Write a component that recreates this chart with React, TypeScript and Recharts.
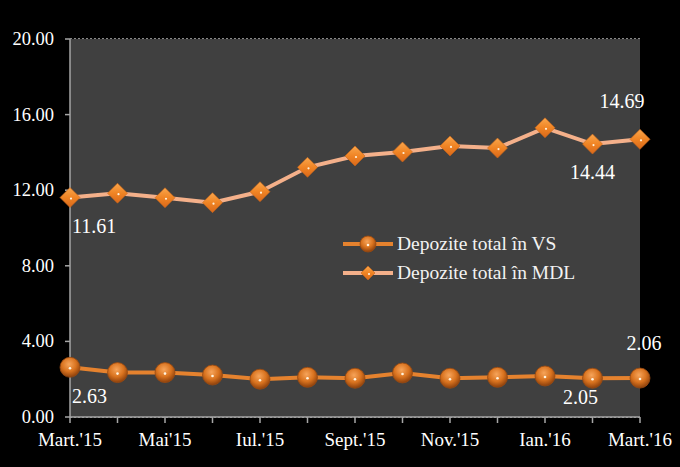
import React from 'react';
import { LineChart, Line, XAxis, YAxis, CartesianGrid, LabelList } from 'recharts';

const months = [
  "Mart.'15", "Apr.'15", "Mai'15", "Iun.'15", "Iul.'15", "Aug.'15", "Sept.'15",
  "Oct.'15", "Nov.'15", "Dec.'15", "Ian.'16", "Feb.'16", "Mart.'16",
];
const vsValues = [2.63, 2.35, 2.35, 2.22, 2.0, 2.1, 2.05, 2.33, 2.05, 2.1, 2.17, 2.05, 2.06];
const mdlValues = [11.61, 11.84, 11.6, 11.34, 11.92, 13.21, 13.81, 14.02, 14.34, 14.23, 15.3, 14.44, 14.69];
const vsLabels = ['2.63', '', '', '', '', '', '', '', '', '', '', '2.05', '2.06'];
const mdlLabels = ['11.61', '', '', '', '', '', '', '', '', '', '', '14.44', '14.69'];
const yTicks = [0, 4, 8, 12, 16, 20];

const data = months.map((m, i) => ({
  month: m,
  vs: vsValues[i],
  mdl: mdlValues[i],
  vsLabel: vsLabels[i],
  mdlLabel: mdlLabels[i],
}));

const FONT = '"Liberation Serif", "Times New Roman", serif';

const Sphere = (props: any) => {
  const { cx, cy, rad = 10 } = props;
  if (cx == null || cy == null) return null;
  return (
    <g>
      <circle cx={cx} cy={cy} r={rad} fill="url(#sphereGrad)" stroke="#9a4a10" strokeWidth={0.8} />
      <circle cx={cx} cy={cy + 1} r={1.3} fill="#fff4e0" />
    </g>
  );
};

const Diamond = (props: any) => {
  const { cx, cy, half = 10 } = props;
  if (cx == null || cy == null) return null;
  const s = half;
  return (
    <g>
      <path
        d={`M${cx},${cy - s} L${cx + s},${cy} L${cx},${cy + s} L${cx - s},${cy} Z`}
        fill="url(#diamondGrad)"
        stroke="#c8651a"
        strokeWidth={0.6}
      />
      <circle cx={cx + 1} cy={cy + 1} r={1.1} fill="#fff2dc" />
    </g>
  );
};

const makeLabel = (offs: number[]) => (props: any) => {
  const { x, y, value, index } = props;
  if (!value) return null;
  let dx = 0;
  let dy = 28;
  let anchor: 'start' | 'middle' | 'end' = 'middle';
  if (index === 0) {
    dx = 2;
    dy = offs[4];
    anchor = 'start';
  } else if (index === 12) {
    dx = offs[0];
    dy = offs[1];
  } else {
    dx = offs[2];
    dy = offs[3];
  }
  return (
    <text
      x={x + dx}
      y={y + dy}
      textAnchor={anchor}
      dominantBaseline="central"
      fill="#ffffff"
      fontFamily={FONT}
      fontSize={20}
    >
      {value}
    </text>
  );
};

const Legend = () => (
  <div style={{ position: 'absolute', left: 343, top: 229, fontFamily: FONT, fontSize: 19.5, color: '#f2f2f2' }}>
    <div style={{ display: 'flex', alignItems: 'center', height: 29 }}>
      <svg width={52} height={24}>
        <line x1={0} y1={12} x2={50} y2={12} stroke="#e5822e" strokeWidth={4} />
        <Sphere cx={25} cy={12} rad={8} />
      </svg>
      <span style={{ marginLeft: 2 }}>Depozite total în VS</span>
    </div>
    <div style={{ display: 'flex', alignItems: 'center', height: 29 }}>
      <svg width={52} height={24}>
        <line x1={0} y1={12} x2={50} y2={12} stroke="#f4b08a" strokeWidth={4} />
        <Diamond cx={25} cy={12} half={7} />
      </svg>
      <span style={{ marginLeft: 2 }}>Depozite total în MDL</span>
    </div>
  </div>
);

export default function App() {
  return (
    <div style={{ position: 'fixed', left: 0, top: 0, width: 680, height: 467, background: '#000' }}>
      <LineChart width={680} height={467} data={data} margin={{ top: 39, right: 40, bottom: 0, left: 0 }}>
        <defs>
          <radialGradient id="sphereGrad" cx="45%" cy="35%" r="65%">
            <stop offset="0%" stopColor="#f6a45a" />
            <stop offset="55%" stopColor="#d9731f" />
            <stop offset="100%" stopColor="#8c400c" />
          </radialGradient>
          <linearGradient id="diamondGrad" x1="0" y1="0" x2="0" y2="1">
            <stop offset="0%" stopColor="#f9a64c" />
            <stop offset="50%" stopColor="#f08424" />
            <stop offset="100%" stopColor="#d9681a" />
          </linearGradient>
        </defs>
        <rect x={70} y={39} width={570} height={378} fill="#404040" />
        <CartesianGrid vertical={false} stroke="#b8b8b8" strokeDasharray="2 2" strokeWidth={1.5} />
        <XAxis
          dataKey="month"
          height={50}
          interval={0}
          stroke="#a6a6a6"
          strokeWidth={1.5}
          tickSize={6}
          tick={(p: any) => {
            const { x, y, payload, index } = p;
            if (index % 2 !== 0) return <g />;
            return (
              <text x={x} y={y + 14} textAnchor="middle" dominantBaseline="central" fill="#ffffff" fontFamily={FONT} fontSize={19}>
                {payload.value}
              </text>
            );
          }}
        />
        <YAxis
          width={70}
          domain={[0, 20]}
          ticks={yTicks}
          stroke="#a6a6a6"
          strokeWidth={1.5}
          tickSize={5}
          tick={(p: any) => {
            const { x, y, payload } = p;
            return (
              <text x={x - 9} y={y} textAnchor="end" dominantBaseline="central" fill="#ffffff" fontFamily={FONT} fontSize={18.5}>
                {Number(payload.value).toFixed(2)}
              </text>
            );
          }}
        />
        <Line
          dataKey="mdl"
          stroke="#f4b08a"
          strokeWidth={4}
          dot={<Diamond />}
          activeDot={false}
          isAnimationActive={false}
        >
          <LabelList dataKey="mdlLabel" content={makeLabel([-18, -38, 0, 28, 28])} />
        </Line>
        <Line
          dataKey="vs"
          stroke="#e5822e"
          strokeWidth={4}
          dot={<Sphere />}
          activeDot={false}
          isAnimationActive={false}
        >
          <LabelList dataKey="vsLabel" content={makeLabel([4, -35, -12, 19, 29])} />
        </Line>
      </LineChart>
      <Legend />
    </div>
  );
}
